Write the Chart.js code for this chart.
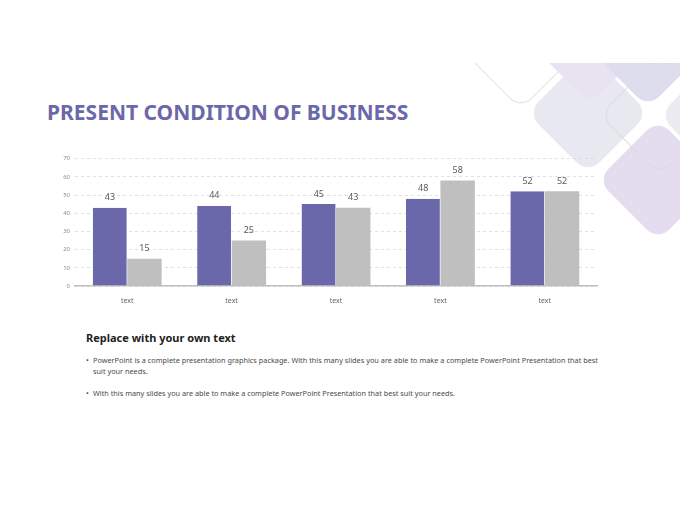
<!DOCTYPE html>
<html>
<head>
<meta charset="utf-8">
<script src="https://cdn.jsdelivr.net/npm/chart.js@4.4.1/dist/chart.umd.min.js"></script>
<style>
  html, body { margin: 0; padding: 0; background: #fff; }
  body { width: 680px; height: 510px; position: relative; overflow: hidden; font-family: "Noto Sans", "Open Sans", sans-serif; }
  #deco { position: absolute; left: 440px; top: 63px; width: 240px; height: 200px; overflow: hidden; }
  .d { position: absolute; width: 86px; height: 86px; border-radius: 16px; transform: rotate(45deg); box-sizing: border-box; }
  #title { position: absolute; left: 47px; top: 98px; font-size: 21px; font-weight: 700; color: #6b68a9; white-space: nowrap; letter-spacing: 0px; }
  #chartBox { position: absolute; left: 40px; top: 150px; width: 565px; height: 165px; }
  #sub { position: absolute; left: 86px; top: 330px; font-size: 11px; font-weight: 700; color: #222; }
  .b { position: absolute; left: 86px; width: 512px; font-size: 7.3px; color: #4a4a4a; line-height: 11px; }
  .b span.dot { position: absolute; left: 0; top: 0; }
  .b div.t { margin-left: 7px; text-align: justify; text-align-last: left; }
</style>
</head>
<body>
<div id="deco">
  <div class="d" style="left:38px; top:-57px; border:1px solid #e2e2ea; background:transparent;"></div>
  <div class="d" style="left:105px; top:7px; background:#e8e8f0;"></div>
  <div class="d" style="left:107px; top:-63px; background:#e9e2f1;"></div>
  <div class="d" style="left:165px; top:-59px; background:#dedded;"></div>
  <div class="d" style="left:237px; top:9px; background:#ebebf1;"></div>
  <div class="d" style="left:175px; top:74px; background:#e4dcef;"></div>
  <div class="d" style="left:177px; top:9px; border:1px solid #dcdce6; background:transparent;"></div>
</div>
<div id="title">PRESENT CONDITION OF BUSINESS</div>
<div id="chartBox"><canvas id="c"></canvas></div>
<div id="sub">Replace with your own text</div>
<div class="b" style="top:355px;"><span class="dot">•</span><div class="t">PowerPoint is a complete presentation graphics package. With this many slides you are able to make a complete PowerPoint Presentation that best suit your needs.</div></div>
<div class="b" style="top:388px;"><span class="dot">•</span><div class="t">With this many slides you are able to make a complete PowerPoint Presentation that best suit your needs.</div></div>
<script>
const categories = ["text", "text", "text", "text", "text"];
const series1 = [43, 44, 45, 48, 52];
const series2 = [15, 25, 43, 58, 52];
const yTicks = [0, 10, 20, 30, 40, 50, 60, 70];

const labelPlugin = {
  id: 'valueLabels',
  afterDatasetsDraw(chart) {
    const ctx = chart.ctx;
    ctx.save();
    ctx.font = '9px "Noto Sans", sans-serif';
    ctx.fillStyle = '#595959';
    ctx.textAlign = 'center';
    ctx.textBaseline = 'middle';
    chart.data.datasets.forEach((ds, i) => {
      chart.getDatasetMeta(i).data.forEach((bar, j) => {
        ctx.fillText(String(ds.data[j]), bar.x, bar.y - 10);
      });
    });
    ctx.restore();
  }
};

new Chart(document.getElementById('c'), {
  type: 'bar',
  data: {
    labels: categories,
    datasets: [
      { data: series1, backgroundColor: '#6a67ab', borderColor: '#ffffff', borderWidth: {left: 0, right: 0.6, top: 0, bottom: 0}, borderSkipped: false },
      { data: series2, backgroundColor: '#bfbfbf', borderColor: '#ffffff', borderWidth: 0 }
    ]
  },
  options: {
    responsive: true,
    maintainAspectRatio: false,
    animation: false,
    layout: { padding: { top: 7, right: 8, left: 0, bottom: 0 } },
    plugins: { legend: { display: false }, tooltip: { enabled: false } },
    datasets: { bar: { categoryPercentage: 0.66, barPercentage: 1.0 } },
    scales: {
      x: {
        grid: { display: false },
        border: { display: true, color: '#bfbfbf', width: 1.5 },
        ticks: { color: '#666', font: { size: 7, family: '"Noto Sans", sans-serif' }, padding: 3 },
        afterFit(s) { s.height = 29; }
      },
      y: {
        min: 0, max: 70,
        afterBuildTicks(s) { s.ticks = yTicks.map(v => ({ value: v })); },
        grid: { color: '#d9d9d9', lineWidth: 0.8, drawTicks: false },
        border: { display: false, dash: [3, 3] },
        ticks: { color: '#8a8a8a', font: { size: 6, family: '"Noto Sans", sans-serif' }, padding: 5 },
        afterFit(s) { s.width = 35; }
      }
    }
  },
  plugins: [labelPlugin]
});
</script>
</body>
</html>
